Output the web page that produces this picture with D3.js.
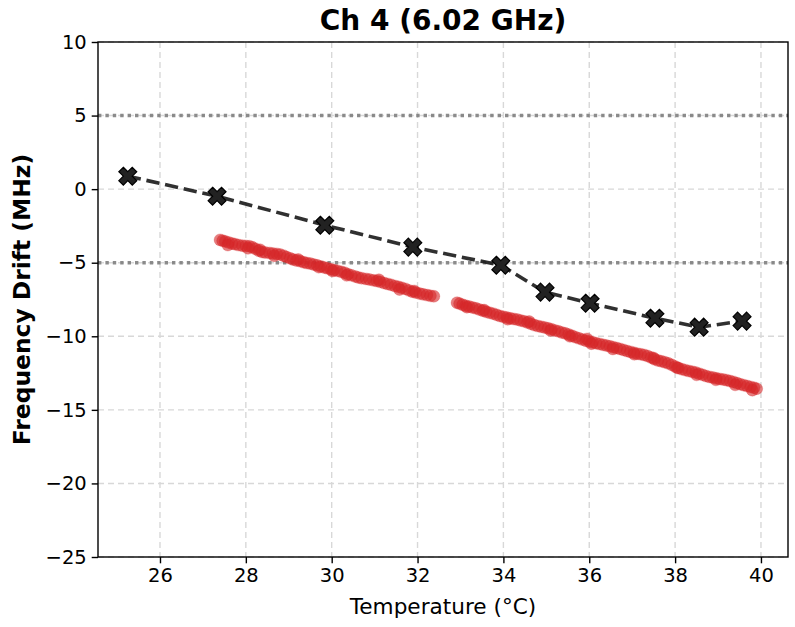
<!DOCTYPE html>
<html>
<head>
<meta charset="utf-8">
<script src="https://cdn.jsdelivr.net/npm/d3@7"></script>
<style>
  html, body { margin: 0; padding: 0; background: #fff; }
  svg { display: block; font-family: "DejaVu Sans", sans-serif; }
</style>
</head>
<body>
<svg id="chart" width="795" height="627"></svg>
<script>
// Per-channel calibration points (temperature °C, drift MHz)
const calTemp  = [25.25, 27.33, 29.84, 31.89, 33.94, 34.97, 36.02, 37.53, 38.56, 39.56];
const calDrift = [0.88, -0.48, -2.45, -3.94, -5.17, -7.00, -7.75, -8.77, -9.38, -8.97];

// Continuous measurement log, first run
const logTempA = [27.40, 27.46, 27.52, 27.60, 27.68, 27.75, 27.83, 27.92, 28.00, 28.08,
  28.15, 28.22, 28.30, 28.38, 28.45, 28.55, 28.63, 28.72, 28.80, 28.88,
  28.95, 29.03, 29.10, 29.18, 29.27, 29.35, 29.42, 29.50, 29.58, 29.66,
  29.75, 29.83, 29.90, 29.98, 30.05, 30.13, 30.22, 30.30, 30.38, 30.46,
  30.55, 30.62, 30.70, 30.80, 30.88, 30.97, 31.05, 31.13, 31.22, 31.30,
  31.38, 31.47, 31.55, 31.63, 31.72, 31.80, 31.88, 31.96, 32.05, 32.13,
  32.22, 32.30, 32.38,
  27.58, 28.05, 28.33, 28.66, 29.22, 29.70, 30.02, 30.35, 31.10, 31.58, 31.92];
const logDriftA = [-3.45, -3.50, -3.55, -3.62, -3.70, -3.74, -3.80, -3.84, -3.86, -3.88,
  -3.95, -4.05, -4.18, -4.27, -4.30, -4.34, -4.38, -4.40, -4.45, -4.52,
  -4.62, -4.70, -4.78, -4.85, -4.90, -4.97, -5.02, -5.06, -5.12, -5.18,
  -5.25, -5.33, -5.38, -5.45, -5.50, -5.55, -5.62, -5.68, -5.78, -5.86,
  -5.94, -6.00, -6.05, -6.10, -6.14, -6.20, -6.24, -6.30, -6.38, -6.44,
  -6.50, -6.58, -6.64, -6.70, -6.78, -6.88, -6.97, -7.03, -7.10, -7.15,
  -7.20, -7.25, -7.28,
  -3.80, -4.02, -4.12, -4.52, -4.78, -5.30, -5.56, -5.86, -6.16, -6.82, -6.92];

// Continuous measurement log, second run
const logTempB = [32.92, 32.98, 33.05, 33.12, 33.20, 33.28, 33.36, 33.44, 33.52, 33.60,
  33.68, 33.76, 33.84, 33.92, 34.00, 34.08, 34.16, 34.24, 34.32, 34.40,
  34.48, 34.56, 34.64, 34.72, 34.80, 34.88, 34.96, 35.04, 35.12, 35.20,
  35.28, 35.36, 35.44, 35.52, 35.60, 35.68, 35.76, 35.84, 35.92, 36.00,
  36.08, 36.16, 36.24, 36.32, 36.40, 36.48, 36.56, 36.64, 36.72, 36.80,
  36.88, 36.96, 37.04, 37.12, 37.20, 37.28, 37.36, 37.44, 37.52, 37.60,
  37.68, 37.76, 37.84, 37.92, 38.00, 38.08, 38.16, 38.24, 38.32, 38.40,
  38.48, 38.56, 38.64, 38.72, 38.80, 38.88, 38.96, 39.04, 39.12, 39.20,
  39.28, 39.36, 39.44, 39.52, 39.60, 39.68, 39.76, 39.84, 39.90,
  33.15, 33.55, 34.10, 34.60, 35.10, 35.55, 35.95, 36.05, 36.55, 37.05, 37.50,
  38.05, 38.50, 38.95, 39.40, 39.80];
const logDriftB = [-7.72, -7.78, -7.86, -7.92, -7.98, -8.04, -8.10, -8.18, -8.26, -8.34,
  -8.40, -8.46, -8.54, -8.62, -8.68, -8.73, -8.78, -8.82, -8.86, -8.92,
  -8.98, -9.06, -9.15, -9.24, -9.30, -9.35, -9.40, -9.46, -9.52, -9.60,
  -9.66, -9.74, -9.80, -9.88, -9.97, -10.06, -10.14, -10.22, -10.30, -10.36,
  -10.41, -10.47, -10.52, -10.58, -10.63, -10.68, -10.74, -10.80, -10.86, -10.93,
  -11.00, -11.06, -11.12, -11.18, -11.22, -11.27, -11.34, -11.44, -11.56, -11.64,
  -11.70, -11.76, -11.84, -11.94, -12.06, -12.16, -12.24, -12.30, -12.36, -12.41,
  -12.46, -12.54, -12.62, -12.70, -12.76, -12.80, -12.86, -12.90, -12.94, -12.98,
  -13.04, -13.10, -13.18, -13.26, -13.32, -13.38, -13.44, -13.50, -13.56,
  -8.02, -8.22, -8.84, -9.00, -9.60, -10.00, -10.18, -10.50, -10.86, -11.22, -11.48,
  -12.14, -12.62, -12.96, -13.30, -13.66];

const xTicks = [26, 28, 30, 32, 34, 36, 38, 40];
const yTicks = [-25, -20, -15, -10, -5, 0, 5, 10];
const limitLines = [5, -5];

const titleText = "Ch 4 (6.02 GHz)";
const xLabelText = "Temperature (°C)";
const yLabelText = "Frequency Drift (MHz)";

const svg = d3.select("#chart");
const margin = { left: 98, right: 7, top: 42, bottom: 70 };
const W = 795, H = 627;
const pw = W - margin.left - margin.right;
const ph = H - margin.top - margin.bottom;

const x = d3.scaleLinear().domain([24.556, 40.63]).range([margin.left, margin.left + pw]);
const y = d3.scaleLinear().domain([-25, 10]).range([margin.top + ph, margin.top]);

// Grid
const grid = svg.append("g");
grid.selectAll("line.vg").data(xTicks).join("line")
  .attr("x1", d => x(d)).attr("x2", d => x(d))
  .attr("y1", margin.top).attr("y2", margin.top + ph)
  .attr("stroke", "#d8d8d8").attr("stroke-width", 1.4).attr("stroke-dasharray", "6,4");
grid.selectAll("line.hg").data(yTicks).join("line")
  .attr("x1", margin.left).attr("x2", margin.left + pw)
  .attr("y1", d => y(d)).attr("y2", d => y(d))
  .attr("stroke", "#d8d8d8").attr("stroke-width", 1.4).attr("stroke-dasharray", "6,4");

// Tolerance limits
svg.append("g").selectAll("line").data(limitLines).join("line")
  .attr("x1", margin.left).attr("x2", margin.left + pw)
  .attr("y1", d => y(d)).attr("y2", d => y(d))
  .attr("stroke", "#808080").attr("stroke-opacity", 0.9)
  .attr("stroke-width", 3.4).attr("stroke-dasharray", "3.4,4");

// Logged points
const logPts = logTempA.map((t, i) => [t, logDriftA[i]])
  .concat(logTempB.map((t, i) => [t, logDriftB[i]]));
svg.append("g").selectAll("circle").data(logPts).join("circle")
  .attr("cx", d => x(d[0])).attr("cy", d => y(d[1])).attr("r", 6)
  .attr("fill", "#d62728").attr("fill-opacity", 0.6)
  .attr("stroke", "#d62728").attr("stroke-opacity", 0.3).attr("stroke-width", 0.8);

// Calibration curve
const calPts = calTemp.map((t, i) => [t, calDrift[i]]);
svg.append("path").datum(calPts)
  .attr("d", d3.line().x(d => x(d[0])).y(d => y(d[1])))
  .attr("fill", "none").attr("stroke", "#1a1a1a").attr("stroke-opacity", 0.9)
  .attr("stroke-width", 3.6).attr("stroke-dasharray", "13.3,5.8");
const xMark = d3.symbol(d3.symbolCross, 200)();
svg.append("g").selectAll("path").data(calPts).join("path")
  .attr("d", xMark)
  .attr("transform", d => `translate(${x(d[0])},${y(d[1])}) rotate(45)`)
  .attr("fill", "#222").attr("stroke", "#000").attr("stroke-width", 1.2);

// Axes
const xAxis = svg.append("g").attr("transform", `translate(0,${margin.top + ph})`)
  .call(d3.axisBottom(x).tickValues(xTicks).tickFormat(d3.format("d")).tickSize(6.3).tickPadding(5));
const yAxis = svg.append("g").attr("transform", `translate(${margin.left},0)`)
  .call(d3.axisLeft(y).tickValues(yTicks).tickFormat(d => d < 0 ? "\u2212" + Math.abs(d) : d).tickSize(6.3).tickPadding(5));
[xAxis, yAxis].forEach(a => {
  a.select(".domain").remove();
  a.selectAll(".tick line").attr("stroke", "#000").attr("stroke-width", 1.4);
  a.selectAll(".tick text").attr("fill", "#000").style("font-size", "19.5px")
    .style("font-family", "DejaVu Sans, sans-serif");
});

// Frame
svg.append("rect").attr("x", margin.left).attr("y", margin.top)
  .attr("width", pw).attr("height", ph)
  .attr("fill", "none").attr("stroke", "#000").attr("stroke-width", 1.4);

// Labels
svg.append("text").attr("x", margin.left + pw / 2).attr("y", 30)
  .attr("text-anchor", "middle").style("font-size", "28px").style("font-weight", "bold")
  .text(titleText);
svg.append("text").attr("x", margin.left + pw / 2).attr("y", 614)
  .attr("text-anchor", "middle").style("font-size", "21.6px")
  .text(xLabelText);
svg.append("text")
  .attr("transform", `translate(30,${margin.top + ph / 2}) rotate(-90)`)
  .attr("text-anchor", "middle").style("font-size", "23.4px").style("font-weight", "bold")
  .text(yLabelText);
</script>
</body>
</html>
